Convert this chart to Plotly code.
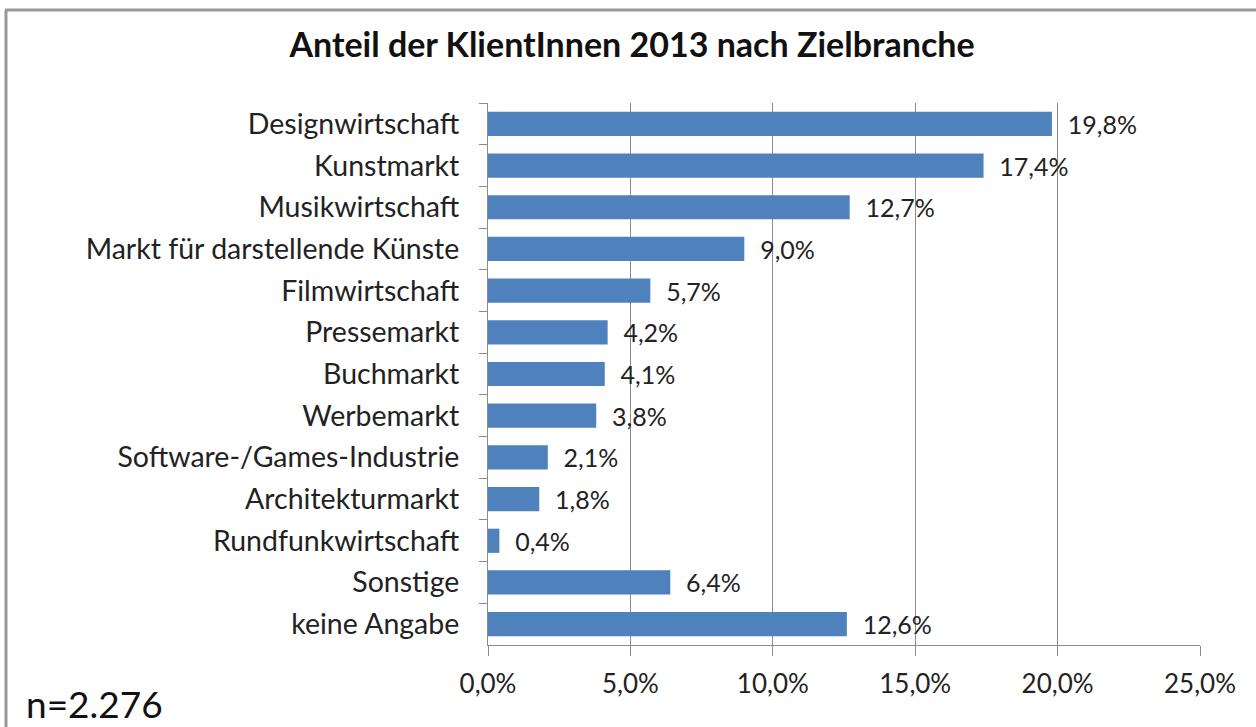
import plotly.graph_objects as go

categories = ["Designwirtschaft", "Kunstmarkt", "Musikwirtschaft", "Markt für darstellende Künste",
              "Filmwirtschaft", "Pressemarkt", "Buchmarkt", "Werbemarkt",
              "Software-/Games-Industrie", "Architekturmarkt", "Rundfunkwirtschaft",
              "Sonstige", "keine Angabe"]
values = [19.8, 17.4, 12.7, 9.0, 5.7, 4.2, 4.1, 3.8, 2.1, 1.8, 0.4, 6.4, 12.6]
tick_vals = [0, 5, 10, 15, 20, 25]
tick_labels = ["0,0%", "5,0%", "10,0%", "15,0%", "20,0%", "25,0%"]

W, H = 1256, 727
ml, mr, mt, mb = 488, 56, 103, 82
pw, ph = W - ml - mr, H - mt - mb

def px_x(p):
    return (p - ml) / pw

def px_y(p):
    return (H - mb - p) / ph

FONT = "Lato"

fig = go.Figure(go.Bar(
    x=values, y=categories, orientation="h",
    marker=dict(color="#4F81BD", line=dict(width=0)),
    width=0.58,
    text=values,
    texttemplate="\u00a0\u00a0%{x:.1f}%",
    textposition="outside",
    constraintext="none",
    textfont=dict(family=FONT, size=25, color="#222222"),
    cliponaxis=False,
))

fig.update_layout(
    width=W, height=H,
    margin=dict(l=ml, r=mr, t=mt, b=mb),
    paper_bgcolor="white", plot_bgcolor="white",
    separators=",.",
    showlegend=False,
    title=dict(text="<b>Anteil der KlientInnen 2013 nach Zielbranche</b>",
               x=632 / W, xref="container", xanchor="center",
               y=1 - 45 / H, yref="container", yanchor="middle",
               font=dict(family=FONT, size=34, color="#111111")),
    xaxis=dict(range=[0, 25], tickvals=tick_vals, ticktext=tick_labels,
               showgrid=True, gridcolor="#8C8C8C", gridwidth=1,
               showline=True, linecolor="#8C8C8C", linewidth=1,
               ticks="outside", ticklen=10, tickcolor="#8C8C8C",
               ticklabelstandoff=6,
               tickfont=dict(family=FONT, size=26, color="#222222"),
               zeroline=False, fixedrange=True),
    yaxis=dict(autorange="reversed", showline=True, linecolor="#8C8C8C", linewidth=1,
               ticks="outside", ticklen=8, tickcolor="#8C8C8C", tickson="boundaries",
               ticklabelstandoff=22,
               tickfont=dict(family=FONT, size=28.5, color="#222222"),
               showgrid=False, fixedrange=True),
    shapes=[
        dict(type="line", xref="paper", yref="paper", x0=px_x(5), x1=px_x(W + 5),
             y0=px_y(10), y1=px_y(10), line=dict(color="#999999", width=3)),
        dict(type="line", xref="paper", yref="paper", x0=px_x(6), x1=px_x(6),
             y0=px_y(10), y1=px_y(H + 5), line=dict(color="#999999", width=3)),
    ],
    annotations=[
        dict(text="n=2.276", xref="paper", yref="paper", x=px_x(24), y=px_y(703),
             xanchor="left", yanchor="middle", showarrow=False,
             font=dict(family=FONT, size=37, color="#111111")),
    ],
)

fig.write_html("out.html", config={"displayModeBar": False},
               post_script="document.body.style.margin='0';")
